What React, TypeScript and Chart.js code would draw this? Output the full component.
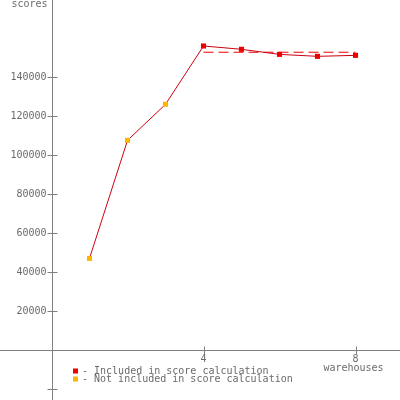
import React, { useEffect, useRef } from "react";
import { Chart, registerables } from "chart.js";
Chart.register(...registerables);

const warehouses = [1, 2, 3, 4, 5, 6, 7, 8];
const scores = [47000, 107500, 126000, 155900, 154200, 151600, 150600, 151100];
const included = [false, false, false, true, true, true, true, true];
const scoreMean = 152700;
const meanFrom = 4;
const meanTo = 8;
const yTickValues = [-20000, 0, 20000, 40000, 60000, 80000, 100000, 120000, 140000];
const yTickLabels = ["", "", "20000", "40000", "60000", "80000", "100000", "120000", "140000"];
const xTickValues = [4, 8];
const xTickLabels = ["4", "8"];
const yTitle = "scores";
const xTitle = "warehouses";
const legendLabels = ["- Included in score calculation", "- Not included in score calculation"];

const RED = "#ee0000";
const ORANGE = "#ffb400";
const LINE = "#cc0010";
const AXIS = "#808080";
const TEXT = "#6a6a6a";
const FONT = "10px 'DejaVu Sans Mono'";

const axesPlugin = {
  id: "specAxes",
  beforeDatasetsDraw(chart: any) {
    const ctx = chart.ctx;
    const xs = chart.scales.x;
    const ys = chart.scales.y;
    const x0 = Math.round(xs.getPixelForValue(0)) + 0.5;
    const y0 = Math.round(ys.getPixelForValue(0)) + 0.5;
    ctx.save();
    ctx.strokeStyle = AXIS;
    ctx.lineWidth = 1;
    ctx.beginPath();
    ctx.moveTo(x0, 0);
    ctx.lineTo(x0, chart.height);
    ctx.moveTo(0, y0);
    ctx.lineTo(chart.width, y0);
    yTickValues.forEach((v) => {
      const p = Math.round(ys.getPixelForValue(v)) + 0.5;
      ctx.moveTo(x0 - 5, p);
      ctx.lineTo(x0 + 5, p);
    });
    xTickValues.forEach((v) => {
      const p = Math.round(xs.getPixelForValue(v)) + 0.5;
      ctx.moveTo(p, y0 - 4);
      ctx.lineTo(p, y0 + 4);
    });
    ctx.stroke();
    ctx.fillStyle = TEXT;
    ctx.font = FONT;
    ctx.textAlign = "right";
    ctx.textBaseline = "middle";
    yTickValues.forEach((v, i) => {
      if (!yTickLabels[i]) return;
      ctx.fillText(yTickLabels[i], x0 - 6, ys.getPixelForValue(v));
    });
    ctx.fillText(yTitle, x0 - 5, 4);
    ctx.textAlign = "center";
    xTickValues.forEach((v, i) => {
      ctx.fillText(xTickLabels[i], xs.getPixelForValue(v), y0 + 9);
    });
    ctx.fillText(xTitle, xs.getPixelForValue(8) - 2, y0 + 18);
    ctx.restore();
  },
  afterDraw(chart: any) {
    const ctx = chart.ctx;
    ctx.save();
    ctx.font = FONT;
    ctx.textAlign = "left";
    ctx.textBaseline = "middle";
    const colors = [RED, ORANGE];
    legendLabels.forEach((t, i) => {
      const cy = 371 + i * 8;
      ctx.fillStyle = colors[i];
      ctx.fillRect(73, cy - 2.5, 5, 5);
      ctx.fillStyle = TEXT;
      ctx.fillText(t, 82, cy);
    });
    ctx.restore();
  },
};

export default function App() {
  const ref = useRef<HTMLCanvasElement>(null);
  useEffect(() => {
    if (!ref.current) return;
    const pointColors = included.map((b) => (b ? RED : ORANGE));
    const chart = new Chart(ref.current, {
      type: "line",
      data: {
        datasets: [
          {
            data: warehouses.map((w, i) => ({ x: w, y: scores[i] })),
            borderColor: LINE,
            borderWidth: 1,
            pointStyle: "rect",
            pointRadius: 3.6,
            pointBackgroundColor: pointColors,
            pointBorderColor: pointColors,
            pointBorderWidth: 0,
            fill: false,
            tension: 0,
          },
          {
            data: [
              { x: meanFrom, y: scoreMean },
              { x: meanTo, y: scoreMean },
            ],
            borderColor: RED,
            borderWidth: 1,
            borderDash: [10, 5],
            pointRadius: 0,
            fill: false,
          },
        ],
      },
      options: {
        responsive: false,
        animation: false,
        layout: { padding: 0, autoPadding: false },
        plugins: { legend: { display: false }, tooltip: { enabled: false } },
        scales: {
          x: { type: "linear", display: false, min: -51.5 / 38, max: (400 - 51.5) / 38 },
          y: { type: "linear", display: false, min: (-50 * 20000) / 39, max: (350 * 20000) / 39 },
        },
      },
      plugins: [axesPlugin],
    } as any);
    return () => chart.destroy();
  }, []);
  return (
    <div style={{ position: "absolute", left: 0, top: 0, width: 400, height: 400, background: "#fff" }}>
      <canvas ref={ref} width={400} height={400} />
    </div>
  );
}
